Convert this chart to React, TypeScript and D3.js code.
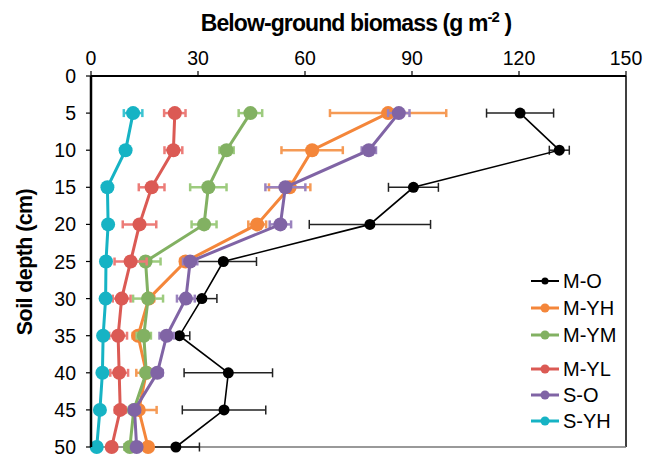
import React from 'react';
import * as d3 from 'd3';

// soil depth (cm) for each measured layer
const depths = [5, 10, 15, 20, 25, 30, 35, 40, 45, 50];
const xTicks = [0, 30, 60, 90, 120, 150];
const yTicks = [0, 5, 10, 15, 20, 25, 30, 35, 40, 45, 50];

const mO = [120.3, 131.3, 90.4, 78.2, 37.1, 31.1, 24.8, 38.5, 37.3, 23.8];
const mOErr = [9.4, 2.8, 7.0, 17.0, 9.3, 4.2, 2.9, 12.4, 11.7, 6.6];
const mYH = [83.3, 62.0, 55.7, 46.6, 26.5, 16.2, 13.2, 15.5, 13.4, 16.0];
const mYHErr = [16.3, 8.6, 5.8, 2.5, 1.5, 1.5, 1.5, 2.8, 5.0, 1.0];
const mYM = [44.7, 38.0, 32.9, 31.7, 15.3, 16.0, 14.8, 15.5, 12.0, 10.9];
const mYMErr = [3.3, 2.0, 5.1, 3.5, 4.2, 4.2, 2.0, 1.5, 1.0, 1.5];
const mYL = [23.5, 23.1, 17.0, 13.6, 11.1, 8.6, 7.6, 7.9, 8.2, 5.8];
const mYLErr = [3.0, 2.5, 3.6, 4.7, 4.5, 2.5, 2.5, 2.5, 1.5, 1.0];
const sO = [86.3, 77.9, 54.5, 53.1, 27.8, 26.6, 21.2, 18.6, 12.2, 12.8];
const sOErr = [3.0, 2.0, 5.6, 3.0, 2.0, 2.5, 2.0, 1.5, 1.5, 1.0];
const sYH = [11.8, 9.7, 4.6, 4.8, 4.2, 4.1, 3.4, 3.2, 2.5, 1.6];
const sYHErr = [2.6, 0.8, 1.0, 0.8, 0.5, 0.5, 0.5, 0.5, 0.5, 0.5];

const series = [
  {name: 'M-O', values: mO, err: mOErr, color: '#000000', errColor: '#222222', lw: 1.6, r: 5.5},
  {name: 'M-YH', values: mYH, err: mYHErr, color: '#F4863A', errColor: '#F59A55', lw: 3, r: 7},
  {name: 'M-YM', values: mYM, err: mYMErr, color: '#82B162', errColor: '#9DCB7E', lw: 3, r: 7},
  {name: 'M-YL', values: mYL, err: mYLErr, color: '#DB5A54', errColor: '#EC7C78', lw: 3, r: 7},
  {name: 'S-O', values: sO, err: sOErr, color: '#8064A5', errColor: '#9A82BE', lw: 3, r: 7},
  {name: 'S-YH', values: sYH, err: sYHErr, color: '#16B3C4', errColor: '#3CC4D2', lw: 3, r: 7},
];

const legendY = [281, 308, 335, 369, 395, 421];

export default function App() {
  const W = 653;
  const H = 458;
  const left = 91, right = 626, top = 76, bottom = 447;

  const x = d3.scaleLinear().domain([0, 150]).range([left, right]);
  const y = d3.scaleLinear().domain([0, 50]).range([top, bottom]);
  const line = d3.line<number>().x(d => x(d)).y((d, i) => y(depths[i]));

  const font = '"Liberation Sans", Arial, sans-serif';

  return (
    <svg width={W} height={H} style={{position: 'absolute', left: 0, top: 0, background: '#fff'}} fontFamily={font}>
      {/* frame */}
      <line x1={right} x2={right} y1={top} y2={bottom} stroke="#000" strokeWidth={1.5} />
      <line x1={left} x2={right} y1={bottom} y2={bottom} stroke="#777" strokeWidth={1.5} />

      {/* series */}
      {series.map(s => (
        <g key={s.name}>
          {s.values.map((v, i) => {
            const cy = y(depths[i]);
            const x0 = x(v - s.err[i]);
            const x1 = x(v + s.err[i]);
            const cap = s.name === 'M-O' ? 4.5 : 4;
            const ew = s.name === 'M-O' ? 1.5 : 2.5;
            return (
              <g key={i} stroke={s.errColor} strokeWidth={ew}>
                <line x1={x0} x2={x1} y1={cy} y2={cy} />
                <line x1={x0} x2={x0} y1={cy - cap} y2={cy + cap} />
                <line x1={x1} x2={x1} y1={cy - cap} y2={cy + cap} />
              </g>
            );
          })}
          <path d={line(s.values) || ''} fill="none" stroke={s.color} strokeWidth={s.lw} />
          {s.values.map((v, i) => (
            <circle key={i} cx={x(v)} cy={y(depths[i])} r={s.r} fill={s.color} />
          ))}
        </g>
      ))}

      {/* axes */}
      <line x1={left} x2={right} y1={top} y2={top} stroke="#000" strokeWidth={2} />
      <line x1={left} x2={left} y1={top} y2={bottom} stroke="#000" strokeWidth={2.5} />
      {xTicks.map(t => (
        <g key={t}>
          <line x1={x(t)} x2={x(t)} y1={top - 5} y2={top} stroke="#000" strokeWidth={1.2} />
          <text x={x(t)} y={top - 11} fontSize={19.5} textAnchor="middle">{t}</text>
        </g>
      ))}
      {yTicks.map(t => (
        <g key={t}>
          <line x1={left - 5} x2={left} y1={y(t)} y2={y(t)} stroke="#000" strokeWidth={1.2} />
          <text x={left - 15} y={y(t)} dy="0.36em" fontSize={19.5} textAnchor="end">{t}</text>
        </g>
      ))}

      {/* titles */}
      <text x={356} y={31} fontSize={23} fontWeight="bold" textAnchor="middle" letterSpacing={-0.9}>
        Below-ground biomass (g m<tspan dy={-9} fontSize={15}>-2</tspan><tspan dy={9}> )</tspan>
      </text>
      <text transform={`translate(32,262) rotate(-90)`} fontSize={21.5} fontWeight="bold" textAnchor="middle" letterSpacing={-0.6}>
        Soil depth (cm)
      </text>

      {/* legend */}
      {series.map((s, i) => (
        <g key={s.name}>
          <line x1={531} x2={559} y1={legendY[i]} y2={legendY[i]} stroke={s.color} strokeWidth={s.name === 'M-O' ? 2 : 3} />
          <circle cx={545} cy={legendY[i]} r={s.name === 'M-O' ? 3.5 : 4.5} fill={s.color} />
          <text x={563} y={legendY[i]} dy="0.36em" fontSize={20}>{s.name}</text>
        </g>
      ))}
    </svg>
  );
}
